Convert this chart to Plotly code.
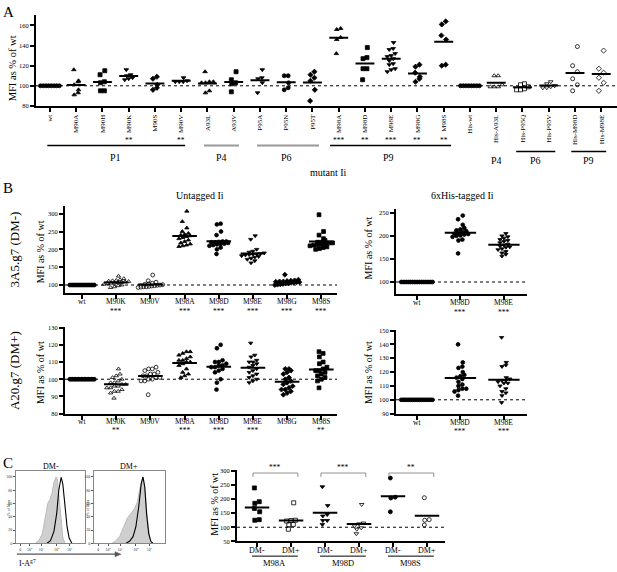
import plotly.graph_objects as go

W, H = 617, 572
FONT = "Liberation Serif"

# ---------------- panel A: single mutants, MFI as % of wt ----------------
a_labels = ["wt", "M90A", "M90H", "M90K", "M90S", "M90V", "A93L", "A93V",
            "P95A", "P95N", "P95T", "M98A", "M98D", "M98E", "M98G", "M98S",
            "His-wt", "His-A93L", "His-P95Q", "His-P95V", "His-M98D", "His-M98E"]
a_values = [
    [100, 100, 100, 100, 100, 100, 100, 100],
    [116, 105, 104, 101, 96, 93, 91],
    [115, 111, 104, 103, 95, 95],
    [116, 111, 110, 108, 107, 106],
    [109, 107, 101, 98, 96],
    [108, 105, 104, 104, 104],
    [114, 104, 104, 103, 103, 95, 93],
    [114, 106, 103, 102, 94],
    [116, 108, 107, 103, 93],
    [110, 110, 103, 98, 96],
    [114, 111, 108, 105, 96, 85],
    [157, 156, 148, 146, 132],
    [138, 128, 127, 117, 117, 106],
    [143, 137, 136, 132, 130, 129, 127, 125, 122, 121, 117, 116, 114],
    [121, 119, 113, 109, 107, 104],
    [164, 161, 150, 146, 121, 120],
    [100, 100, 100, 100, 100, 100, 100, 100],
    [110, 110, 101, 99, 99, 99],
    [102, 101, 99, 97, 96, 96],
    [104, 102, 100, 99, 98, 98],
    [139, 120, 114, 107, 101, 95],
    [135, 117, 113, 108, 103, 95],
]
a_sig = ["", "", "", "**", "", "**", "", "", "", "", "",
         "***", "**", "***", "**", "**", "", "", "", "", "", ""]
a_symbols = ["circle", "triangle-up", "square", "triangle-down", "diamond",
             "triangle-down", "triangle-up", "square", "triangle-down", "circle",
             "diamond", "triangle-up", "square", "triangle-down", "diamond", "diamond",
             "circle", "triangle-up-open", "square-open", "triangle-down-open",
             "circle-open", "diamond-open"]

# ---------------- panel B: untagged / 6xHis-tagged, two cell lines ----------------
b_labels = ["wt", "M90K", "M90V", "M98A", "M98D", "M98E", "M98G", "M98S"]
b_dm_minus = [
    [100] * 18,
    [125, 118, 115, 113, 112, 111, 110, 109, 108, 107, 106, 105, 104, 102, 100, 98, 95, 93],
    [128, 112, 108, 105, 103, 102, 101, 100, 99, 98, 97, 96, 95, 95, 94, 93],
    [307, 278, 260, 250, 245, 242, 240, 238, 236, 233, 230, 226, 222, 218, 215, 212, 210, 208],
    [272, 270, 250, 240, 222, 220, 216, 214, 222, 221, 220, 218, 215, 212, 210, 205, 200, 187],
    [238, 228, 200, 195, 192, 190, 188, 187, 186, 185, 184, 182, 180, 178, 175, 172, 168, 162],
    [129, 115, 113, 112, 111, 110, 110, 109, 108, 108, 107, 106, 105, 104, 103, 102, 101, 100],
    [297, 250, 240, 230, 225, 220, 218, 215, 212, 220, 218, 215, 213, 210, 207, 205, 202, 200],
]
b_dm_plus = [
    [100] * 18,
    [106, 103, 102, 101, 100, 99, 98, 98, 97, 97, 96, 96, 95, 95, 94, 93, 93, 92, 89],
    [107, 106, 106, 105, 104, 103, 103, 102, 102, 101, 101, 100, 100, 99, 99, 91],
    [116, 116, 115, 114, 113, 112, 111, 111, 110, 110, 109, 108, 106, 104, 103, 102, 101],
    [120, 118, 111, 110, 110, 109, 108, 108, 107, 107, 106, 105, 104, 100, 98, 94],
    [121, 114, 113, 111, 110, 110, 109, 108, 107, 106, 105, 104, 103, 102, 101, 100, 99, 98],
    [106, 106, 105, 104, 103, 101, 100, 99, 98, 97, 96, 95, 94, 94, 93, 92, 91],
    [116, 115, 113, 110, 109, 107, 106, 105, 105, 104, 103, 102, 101, 100, 99, 95],
]
b_sig_minus = ["", "***", "", "***", "***", "***", "***", "***"]
b_sig_plus = ["", "**", "", "***", "***", "***", "", "**"]
b_symbols = ["circle", "triangle-up-open", "circle-open", "triangle-up", "circle",
             "triangle-down", "diamond", "square"]

his_labels = ["wt", "M98D", "M98E"]
his_dm_minus = [
    [100] * 18,
    [244, 236, 224, 217, 214, 212, 210, 208, 206, 205, 204, 203, 201, 200, 198, 192, 190, 162],
    [205, 200, 198, 195, 192, 190, 188, 185, 182, 180, 178, 176, 175, 172, 170, 166, 163, 160, 156],
]
his_dm_plus = [
    [100] * 18,
    [140, 127, 124, 123, 120, 118, 117, 116, 115, 113, 111, 110, 108, 108, 107, 106, 103],
    [145, 127, 125, 124, 116, 115, 114, 114, 113, 112, 112, 110, 108, 106, 105, 103, 98],
]
his_sig = ["", "***", "***"]
his_symbols = ["circle", "circle", "triangle-down"]

# ---------------- panel C: DM- vs DM+ ----------------
c_labels = ["DM-", "DM+", "DM-", "DM+", "DM-", "DM+"]
c_groups = ["M98A", "M98D", "M98S"]
c_values = [
    [240, 191, 185, 167, 155, 127, 125],
    [187, 125, 124, 122, 110, 109, 93],
    [244, 177, 145, 140, 124, 124, 110],
    [181, 115, 112, 105, 98, 93, 77],
    [275, 207, 204, 155],
    [205, 127, 125, 108],
]
c_sig = ["***", "***", "**"]
c_symbols = ["square", "square-open", "triangle-down", "triangle-down-open",
             "circle", "circle-open"]

# histograms (x as fraction of the plotted log scale, y as % of max)
hist_ticks = [0.06, 0.2, 0.37, 0.59, 0.78]
hist_ticktext = ["0", "10<sup>2</sup>", "10<sup>3</sup>", "10<sup>4</sup>", "10<sup>5</sup>"]
dmm_gray_x = [0.28, 0.33, 0.38, 0.42, 0.46, 0.49, 0.52, 0.55, 0.58, 0.60, 0.62, 0.65, 0.68, 0.71]
dmm_gray_y = [0, 4, 14, 36, 60, 66, 75, 92, 100, 97, 72, 32, 8, 0]
dmm_black_x = [0.45, 0.50, 0.55, 0.59, 0.62, 0.655, 0.68, 0.71, 0.74, 0.77, 0.81]
dmm_black_y = [0, 4, 18, 45, 80, 100, 88, 55, 25, 8, 0]
dmp_gray_x = [0.25, 0.30, 0.36, 0.42, 0.47, 0.52, 0.57, 0.61, 0.65, 0.69, 0.72, 0.75, 0.78, 0.81]
dmp_gray_y = [0, 3, 10, 25, 38, 45, 52, 62, 85, 100, 80, 40, 12, 0]
dmp_black_x = [0.45, 0.50, 0.55, 0.59, 0.63, 0.665, 0.69, 0.715, 0.74, 0.77, 0.80, 0.83]
dmp_black_y = [0, 3, 10, 25, 55, 90, 100, 85, 45, 15, 3, 0]


def dom_x(l, r):
    return [l / W, r / W]


def dom_y(t, b):
    return [1 - b / H, 1 - t / H]


def swarm(vals, ystep, dx):
    """spread points that sit close in value sideways"""
    order = sorted(range(len(vals)), key=lambda k: vals[k])
    groups = []
    for k in order:
        if groups and vals[k] - vals[groups[-1][0]] < ystep:
            groups[-1].append(k)
        else:
            groups.append([k])
    offs = [0.0] * len(vals)
    for gi, g in enumerate(groups):
        n = len(g)
        if n == 1:
            # lone points alternate a little left / right
            offs[g[0]] = dx * 0.6 * (1 if gi % 2 else -1)
            continue
        step = min(dx, 0.72 / (n - 1))
        for j, k in enumerate(g):
            offs[k] = (j - (n - 1) / 2) * step
    return offs


fig = go.Figure()


def add_panel(n, values, symbols, ystep, dx, size):
    xa, ya = ("x", "y") if n == 1 else ("x%d" % n, "y%d" % n)
    lx, ly = [], []
    for i, vals in enumerate(values):
        offs = swarm(vals, ystep, dx)
        fig.add_trace(go.Scatter(
            x=[i + o for o in offs], y=vals, mode="markers", xaxis=xa, yaxis=ya,
            marker=dict(symbol=symbols[i], size=size, color="black",
                        line=dict(color="black", width=0.8)),
            showlegend=False, hoverinfo="y"))
        m = sum(vals) / len(vals)
        lx += [i - 0.36, i + 0.36, None]
        ly += [m, m, None]
    fig.add_trace(go.Scatter(x=lx, y=ly, mode="lines", xaxis=xa, yaxis=ya,
                             line=dict(color="black", width=2),
                             showlegend=False, hoverinfo="skip"))


add_panel(1, a_values, a_symbols, 3.5, 0.15, 4)
add_panel(2, b_dm_minus, b_symbols, 9, 0.11, 3.8)
add_panel(3, his_dm_minus, his_symbols, 7, 0.09, 3.8)
add_panel(4, b_dm_plus, b_symbols, 2.2, 0.11, 3.8)
add_panel(5, his_dm_plus, his_symbols, 2.6, 0.09, 3.8)
add_panel(8, c_values, c_symbols, 12, 0.13, 4)

for n, gx, gy, bx, by in [(6, dmm_gray_x, dmm_gray_y, dmm_black_x, dmm_black_y),
                          (7, dmp_gray_x, dmp_gray_y, dmp_black_x, dmp_black_y)]:
    fig.add_trace(go.Scatter(x=gx, y=gy, mode="lines", fill="tozeroy",
                             xaxis="x%d" % n, yaxis="y%d" % n,
                             fillcolor="#cfcfcf", line=dict(color="#b0b0b0", width=0.8),
                             showlegend=False, hoverinfo="skip"))
    fig.add_trace(go.Scatter(x=bx, y=by, mode="lines", xaxis="x%d" % n, yaxis="y%d" % n,
                             line=dict(color="black", width=1.1),
                             showlegend=False, hoverinfo="skip"))


def xaxis(l, r, rng, anchor, labels, size, angle=0, show=True):
    return dict(domain=dom_x(l, r), range=rng, anchor=anchor,
                tickmode="array", tickvals=list(range(len(labels))), ticktext=labels,
                tickangle=angle, showticklabels=show, showline=True, linewidth=2,
                linecolor="black", ticks="outside", ticklen=4, tickwidth=1.5,
                tickcolor="black", tickfont=dict(family=FONT, size=size, color="black"),
                showgrid=False, zeroline=False, fixedrange=True)


def yaxis(t, b, rng, anchor, tickvals, size):
    return dict(domain=dom_y(t, b), range=rng, anchor=anchor,
                tickmode="array", tickvals=tickvals, showline=True, linewidth=2,
                linecolor="black", ticks="outside", ticklen=4, tickwidth=1.5,
                tickcolor="black", tickfont=dict(family=FONT, size=size, color="black"),
                showgrid=False, zeroline=False, fixedrange=True)


def hist_axes(l, r, anchor_x, anchor_y):
    ax = dict(domain=dom_x(l, r), range=[0, 1], anchor=anchor_y, tickmode="array",
              tickvals=hist_ticks, ticktext=hist_ticktext, showline=True, mirror=True,
              linewidth=1, linecolor="#888", ticks="outside", ticklen=2, tickwidth=0.6,
              tickcolor="#555", tickfont=dict(family=FONT, size=4, color="#333"),
              showgrid=False, zeroline=False, fixedrange=True)
    ay = dict(domain=dom_y(473, 546), range=[0, 109], anchor=anchor_x, tickmode="array",
              tickvals=[0, 20, 40, 60, 80, 100], showline=True, mirror=True,
              linewidth=1, linecolor="#888", ticks="outside", ticklen=2, tickwidth=0.6,
              tickcolor="#555", tickfont=dict(family=FONT, size=4, color="#333"),
              showgrid=False, zeroline=False, fixedrange=True)
    return ax, ay


h1x, h1y = hist_axes(16, 85, "x6", "y6")
h2x, h2y = hist_axes(94, 165, "x7", "y7")

layout = dict(
    width=W, height=H, autosize=False, margin=dict(l=0, r=0, t=0, b=0),
    paper_bgcolor="white", plot_bgcolor="rgba(0,0,0,0)", showlegend=False,
    font=dict(family=FONT, color="black"),
    xaxis=xaxis(36, 617, [-0.53, 21.6], "y", a_labels, 7, -90),
    yaxis=yaxis(12, 104, [80, 170.5], "x", [80, 100, 120, 140, 160], 6.5),
    xaxis2=xaxis(65, 337, [-0.5, 7.46], "y2", b_labels, 7.5, show=False),
    yaxis2=yaxis(205, 293, [77.8, 322], "x2", [100, 150, 200, 250, 300], 6.5),
    xaxis3=xaxis(396, 527, [-0.48, 2.53], "y3", his_labels, 7.5, show=False),
    yaxis3=yaxis(208, 294, [74.2, 258.6], "x3", [100, 150, 200, 250], 6.5),
    xaxis4=xaxis(65, 337, [-0.5, 7.46], "y4", b_labels, 7.5, show=False),
    yaxis4=yaxis(327, 415, [80, 130.6], "x4", [80, 90, 100, 110, 120, 130], 6.5),
    xaxis5=xaxis(396, 527, [-0.48, 2.53], "y5", his_labels, 7.5, show=False),
    yaxis5=yaxis(330, 415, [90, 150.7], "x5", [90, 100, 110, 120, 130, 140, 150], 6.5),
    xaxis6=h1x, yaxis6=h1y, xaxis7=h2x, yaxis7=h2y,
    xaxis8=xaxis(237, 445, [-0.59, 5.53], "y8", c_labels, 8, show=False),
    yaxis8=yaxis(472, 544, [50, 303.5], "x8", [50, 100, 150, 200, 250, 300], 6.5),
)
fig.update_layout(**layout)

ann = []
shapes = []


def note(text, x, y, size, xref="paper", angle=0, xanchor="center", color="black"):
    ann.append(dict(text=text, x=x / W if xref == "paper" else x, y=1 - y / H,
                    xref=xref, yref="paper", showarrow=False, textangle=angle,
                    xanchor=xanchor, yanchor="middle",
                    font=dict(family=FONT, size=size, color=color)))


def hline(xref, x0, x1, y, color="black", width=1.5):
    shapes.append(dict(type="line", xref=xref, yref="paper", x0=x0, x1=x1,
                       y0=1 - y / H, y1=1 - y / H, line=dict(color=color, width=width)))


# dotted 100% reference lines
for n in [1, 2, 3, 4, 5, 8]:
    xa, ya = ("x", "y") if n == 1 else ("x%d" % n, "y%d" % n)
    shapes.append(dict(type="line", xref=xa + " domain", yref=ya, x0=0, x1=1, y0=100, y1=100,
                       line=dict(color="black", width=1, dash="dot"), layer="below"))

# panel letters
note("A", 8, 9, 15)
note("B", 8, 187, 15)
note("C", 8, 465, 15)

# panel A annotations
note("MFI as % of wt", 12, 66, 10.5, angle=-90)
for i, s in enumerate(a_sig):
    if s:
        note(s, i, 139, 7.5, xref="x")
hline("x", -0.1, 5.15, 144)
hline("x", 5.87, 7.2, 144, color="#999", width=2)
hline("x", 7.89, 10.25, 144, color="#999", width=2)
hline("x", 10.67, 15.28, 144)
hline("x", 17.76, 19.25, 150)
hline("x", 19.86, 21.19, 150)
note("P1", 2.5, 156, 10, xref="x")
note("P4", 6.55, 156, 10, xref="x")
note("P6", 9.0, 156, 10, xref="x")
note("P9", 12.9, 156, 10, xref="x")
note("mutant Ii", 10.6, 171, 10, xref="x")
note("P4", 17.0, 159, 10, xref="x")
note("P6", 18.5, 159, 10, xref="x")
note("P9", 20.5, 159, 10, xref="x")

# panel B annotations
note("Untagged Ii", 200, 195, 10)
note("6xHis-tagged Ii", 462, 195, 10)
note("3A5.g7 (DM-)", 14, 249, 13, angle=-90)
note("A20.g7 (DM+)", 14, 372, 13, angle=-90)
note("MFI as % of wt", 40, 252, 10, angle=-90)
note("MFI as % of wt", 40, 374, 10, angle=-90)
note("MFI as % of wt", 368, 248, 10, angle=-90)
note("MFI as % of wt", 368, 374, 10, angle=-90)
for xref, labels, sig, ylab, ysig in [("x2", b_labels, b_sig_minus, 302, 312),
                                      ("x4", b_labels, b_sig_plus, 423, 432),
                                      ("x3", his_labels, his_sig, 303, 313),
                                      ("x5", his_labels, his_sig, 424, 433)]:
    for i, lab in enumerate(labels):
        note(lab, i, ylab, 7.5, xref=xref)
        if sig[i]:
            note(sig[i], i, ysig, 7.5, xref=xref)

# panel C annotations
note("DM-", 51, 468, 8)
note("DM+", 129, 468, 8)
note("% of Max", 9, 510, 4, angle=-90, color="#333")
note("% of Max", 88, 510, 4, angle=-90, color="#333")
note("I-A<sup>g7</sup>", 17, 566, 8, xanchor="left")
hline("paper", 17 / W, 116 / W, 557, color="#555", width=1.2)
shapes.append(dict(type="path", xref="paper", yref="paper", fillcolor="#555",
                   line=dict(color="#555", width=0.5),
                   path="M %f,%f L %f,%f L %f,%f Z" % (115 / W, 1 - 554.5 / H, 121 / W,
                                                       1 - 557 / H, 115 / W, 1 - 559.5 / H)))
note("MFI as % of wt", 215, 507, 10, angle=-90)
for i, lab in enumerate(c_labels):
    note(lab, i, 553, 8, xref="x8")
for k, g in enumerate(c_groups):
    x0, x1 = 2 * k - 0.15, 2 * k + 1.2
    hline("x8", x0, x1, 559, width=1)
    note(g, (x0 + x1) / 2, 566, 8.5, xref="x8")
    b0, b1 = 2 * k - 0.12, 2 * k + 1.2
    yt, yb = 1 - 475 / H, 1 - 479 / H
    shapes.append(dict(type="path", xref="x8", yref="paper",
                       path="M %f,%f L %f,%f L %f,%f L %f,%f" % (b0, yb, b0, yt, b1, yt, b1, yb),
                       line=dict(color="#777", width=0.8)))
    note(c_sig[k], (b0 + b1) / 2, 469, 7.5, xref="x8")

fig.update_layout(annotations=ann, shapes=shapes)
fig.write_html("out.html", config={"displayModeBar": False},
               post_script="document.body.style.margin='0px';")
